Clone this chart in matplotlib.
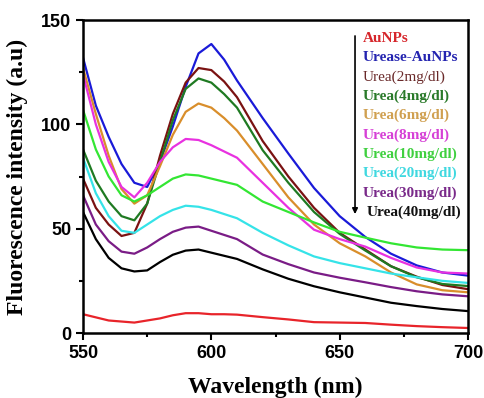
import matplotlib
matplotlib.use("Agg")
import matplotlib.pyplot as plt

# wavelengths (nm)
wl = [550, 555, 560, 565, 570, 575, 580, 585, 590, 595, 600,
      605, 610, 620, 630, 640, 650, 660, 670, 680, 690, 700]

aunps = [9, 7.5, 6, 5.5, 5, 6, 7, 8.5, 9.5, 9.5, 9,
         9, 8.8, 7.6, 6.5, 5.2, 5, 4.8, 4, 3.3, 2.8, 2.4]
urease = [132, 109, 94, 81, 72, 70, 82, 99, 118, 134, 138.5,
          131, 121, 103, 86, 69.5, 56, 46, 38, 32.4, 29, 27.5]
urea2 = [74, 60, 52, 46.5, 48, 62, 85, 105, 120, 127, 126,
         120.5, 113, 92, 75, 60, 48, 40, 32, 27, 23, 21]
urea4 = [88, 73, 63, 56, 54, 62, 82, 102, 117, 122, 120,
         114.5, 108, 87.6, 72, 58, 47.5, 39.5, 32, 26.7, 23.5, 22.5]
urea6 = [127, 105, 85, 69, 62, 66, 80, 95, 106, 110, 108,
         103, 97, 81, 65, 52, 43, 36.7, 29, 23.3, 20.5, 19.5]
urea8 = [124, 100, 82, 70, 65, 72, 82, 89, 93, 92.5, 90,
         87, 84, 72, 60, 49.5, 45, 41.4, 36, 31.4, 29, 28.5]
urea10 = [107, 88, 75, 66, 63, 66, 70, 74, 76, 75.5, 74,
          72.5, 71, 63, 58, 53, 48.5, 45.7, 43, 41, 40, 39.7]
urea20 = [84, 67, 56, 49, 48, 52, 56, 59, 61, 60.5, 59,
          57, 55, 48, 42, 36.7, 33.5, 31, 28.5, 26.7, 25, 24]
urea30 = [66, 52, 44, 39, 38, 41, 45, 48.5, 50.5, 51, 49,
          47, 45, 37.6, 33, 29, 26.5, 24.3, 22, 20, 18.5, 17.6]
urea40 = [58, 45, 36, 31, 29.5, 30, 34, 37.5, 39.5, 40, 38.5,
          37, 35.5, 30.5, 26, 22.4, 19.5, 17, 14.5, 12.9, 11.5, 10.5]

series = [aunps, urease, urea2, urea4, urea6, urea8, urea10, urea20, urea30, urea40]
labels = ["AuNPs", "Urease-AuNPs", "Urea(2mg/dl)", "Urea(4mg/dl)", "Urea(6mg/dl)",
          "Urea(8mg/dl)", "Urea(10mg/dl)", "Urea(20mg/dl)", "Urea(30mg/dl)", "Urea(40mg/dl)"]
colors = ["#e8242a", "#1a1ad8", "#7a1212", "#1f7a22", "#d98e2b",
          "#e831e0", "#33e633", "#35e3e8", "#7a1c86", "#000000"]
text_colors = ["#d6262b", "#2424b0", "#6a2a2a", "#2a7a2a", "#d0a050",
               "#d640d6", "#40d040", "#40d8e0", "#7a2a8a", "#111111"]

fig = plt.figure(figsize=(4.84, 3.98), dpi=100)
ax = fig.add_axes([0.1715, 0.1633, 0.7955, 0.7864])

for ys, c in zip(series, colors):
    ax.plot(wl, ys, color=c, lw=1.6, solid_joinstyle="round")

ax.set_xlim(550, 700)
ax.set_ylim(0, 150)
ax.set_xticks([550, 600, 650, 700])
ax.set_xticks([575, 625, 675], minor=True)
ax.set_yticks([0, 50, 100, 150])
ax.set_yticks([25, 75, 125], minor=True)
ax.tick_params(which="both", direction="out", width=1.5, top=False, right=False)
ax.tick_params(which="major", length=5)
ax.tick_params(which="minor", length=3)
for lab in ax.get_xticklabels() + ax.get_yticklabels():
    lab.set_family("Liberation Sans")
    lab.set_fontweight("bold")
    lab.set_fontsize(13)
for sp in ax.spines.values():
    sp.set_linewidth(1.8)

ax.set_xlabel("Wavelength (nm)", family="Liberation Serif", fontweight="bold",
              fontsize=17, labelpad=11)
ax.set_ylabel("Fluorescence intensity (a.u)", family="Liberation Serif",
              fontweight="bold", fontsize=17, labelpad=9)

# legend-like labels with arrow
for i, (lab, tc) in enumerate(zip(labels, text_colors)):
    xpos = 0.7265 if i < 9 else 0.737
    ax.text(xpos, 0.942 - i * 0.0618, lab, transform=ax.transAxes, color=tc,
            family="Liberation Serif", fontsize=11,
            fontweight="normal" if i == 2 else "bold", va="center", ha="left")
ax.annotate("", xy=(0.7065, 0.371), xytext=(0.7065, 0.958),
            xycoords="axes fraction",
            arrowprops=dict(arrowstyle="-|>", color="black", lw=1.2,
                            mutation_scale=8))

fig.savefig("out.png", dpi=100)
